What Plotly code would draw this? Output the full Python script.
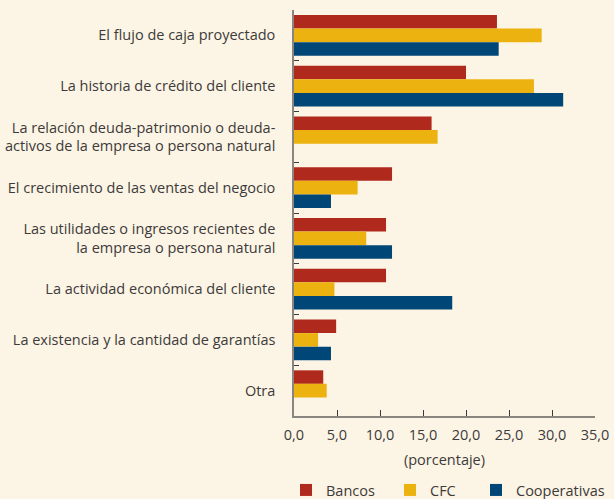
import plotly.graph_objects as go

categories = [
    "El flujo de caja proyectado",
    "La historia de crédito del cliente",
    "La relación deuda-patrimonio o deuda-<br>activos de la empresa o persona natural",
    "El crecimiento de las ventas del negocio",
    "Las utilidades o ingresos recientes de<br>la empresa o persona natural",
    "La actividad económica del cliente",
    "La existencia y la cantidad de garantías",
    "Otra",
]
bancos = [23.6, 20.0, 16.0, 11.4, 10.7, 10.7, 4.9, 3.4]
cfc = [28.8, 27.9, 16.7, 7.4, 8.4, 4.7, 2.8, 3.8]
cooperativas = [23.8, 31.3, 0, 4.3, 11.4, 18.4, 4.3, 0]
x_ticks = [0, 5, 10, 15, 20, 25, 30, 35]

bg = "#FCF5E5"
txt = "#3C3A3A"
font_family = "Open Sans"
fs = 14.5

series = [
    ("Bancos", bancos, "#B0291D", "legend", 286),
    ("CFC", cfc, "#ECB20F", "legend2", 390),
    ("Cooperativas", cooperativas, "#004677", "legend3", 476),
]

fig = go.Figure()
legends = {}
for name, vals, col, leg, lx in series:
    fig.add_trace(go.Bar(y=categories, x=vals, name=name, orientation="h", legend=leg,
                         showlegend=True,
                         marker=dict(color=col, line=dict(width=0))))
    legends[leg] = dict(orientation="h", x=lx / 614, xanchor="left", xref="container",
                        y=0.018, yanchor="middle", yref="container",
                        bgcolor="rgba(0,0,0,0)", visible=True,
                        font=dict(size=fs, color=txt), itemwidth=30)

fig.update_layout(
    showlegend=True,
    barmode="group",
    bargap=0.2,
    bargroupgap=0,
    paper_bgcolor=bg,
    plot_bgcolor=bg,
    width=614,
    height=499,
    margin=dict(l=294, r=19, t=10, b=83, autoexpand=False),
    font=dict(family=font_family, size=fs, color=txt),
    xaxis=dict(range=[0, 35], tickvals=x_ticks, tickformat=".1f", automargin=False,
               showgrid=False, zeroline=False, showline=True, linecolor="#8A8580",
               linewidth=1.5, ticks="inside", ticklen=6, tickcolor="#3C3A3A",
               tickfont=dict(size=fs, color=txt), ticklabelstandoff=5,
               title=dict(text="(porcentaje)", font=dict(size=fs, color=txt), standoff=12)),
    yaxis=dict(autorange="reversed", showgrid=False, showline=True, linecolor="#8A8580",
               linewidth=1.5, ticks="inside", ticklen=5, tickcolor="#3C3A3A",
               tickson="boundaries", tickfont=dict(size=fs, color=txt),
               ticklabelstandoff=14, automargin=False),
    separators=",.",
    **legends,
)

fig.write_html(
    "out.html",
    config={"displayModeBar": False},
    post_script="document.body.style.margin='0';document.body.style.background='#FCF5E5';document.body.style.overflow='hidden';",
)
